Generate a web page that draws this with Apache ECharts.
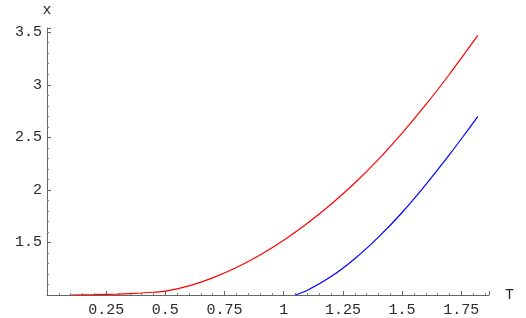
<!DOCTYPE html>
<html>
<head>
<meta charset="utf-8">
<script src="https://cdn.jsdelivr.net/npm/echarts@6/dist/echarts.min.js"></script>
<style>html,body{margin:0;padding:0;background:#fff}#c{width:526px;height:318px}</style>
</head>
<body>
<div id="c"></div>
<script>
// Red curve (T, x)
var redT = [0.10, 0.20, 0.30, 0.40, 0.45, 0.50, 0.60, 0.70, 0.80, 0.90, 1.00, 1.10, 1.20, 1.30, 1.40, 1.50, 1.60, 1.70, 1.76, 1.82];
var redX = [1.000, 1.003, 1.009, 1.019, 1.026, 1.037, 1.087, 1.163, 1.261, 1.381, 1.521, 1.682, 1.863, 2.065, 2.290, 2.540, 2.810, 3.100, 3.285, 3.470];
// Blue curve (T, x)
var blueT = [1.05, 1.10, 1.20, 1.30, 1.40, 1.50, 1.60, 1.70, 1.76, 1.82];
var blueX = [1.000, 1.045, 1.175, 1.345, 1.550, 1.785, 2.050, 2.335, 2.515, 2.700];
// Tick labels
var xTickLabels = ['0.25', '0.5', '0.75', '1', '1.25', '1.5', '1.75'];
var yTickLabels = ['1.5', '2', '2.5', '3', '3.5'];

function pairs(a, b) { return a.map(function (v, i) { return [v, b[i]]; }); }
function fmt(list) {
  return function (v) {
    var s = String(Math.round(v * 100) / 100);
    return list.indexOf(s) >= 0 ? s : '';
  };
}
var FONT = '"Liberation Mono", "DejaVu Sans Mono", monospace';
var labelStyle = { fontFamily: FONT, fontSize: 15, color: '#2a2a2a' };
var chart = echarts.init(document.getElementById('c'), null, { renderer: 'canvas' });
chart.setOption({
  animation: false,
  grid: { left: 47, right: 37, top: 28, bottom: 22, containLabel: false },
  xAxis: {
    type: 'value', min: 0, max: 1.867, interval: 0.25,
    name: 'T', nameLocation: 'end', nameGap: 16,
    nameTextStyle: { fontFamily: FONT, fontSize: 15, color: '#2a2a2a', verticalAlign: 'middle' },
    axisLine: { show: true, onZero: false, lineStyle: { color: '#666', width: 1 } },
    axisTick: { show: true, inside: true, length: 4, lineStyle: { color: '#666' } },
    minorTick: { show: true, splitNumber: 5, length: 2, lineStyle: { color: '#888' } },
    splitLine: { show: false },
    axisLabel: Object.assign({ margin: 8, formatter: fmt(xTickLabels), showMaxLabel: false }, labelStyle)
  },
  yAxis: {
    type: 'value', min: 1, max: 3.54, interval: 0.5,
    name: 'x', nameLocation: 'end', nameGap: 18,
    nameTextStyle: { fontFamily: FONT, fontSize: 15, color: '#2a2a2a', verticalAlign: 'middle', align: 'center' },
    axisLine: { show: true, onZero: false, lineStyle: { color: '#666', width: 1 } },
    axisTick: { show: true, inside: true, length: 4, lineStyle: { color: '#666' } },
    minorTick: { show: true, splitNumber: 5, length: 2, lineStyle: { color: '#888' } },
    splitLine: { show: false },
    axisLabel: Object.assign({ margin: 5, formatter: fmt(yTickLabels), showMaxLabel: false }, labelStyle)
  },
  series: [
    { type: 'line', data: pairs(redT, redX), smooth: 0.3, showSymbol: false, lineStyle: { color: '#ff0000', width: 1.2 }, z: 3 },
    { type: 'line', data: pairs(blueT, blueX), smooth: 0.3, showSymbol: false, lineStyle: { color: '#0000ff', width: 1.2 }, z: 3 }
  ]
});
</script>
</body>
</html>
